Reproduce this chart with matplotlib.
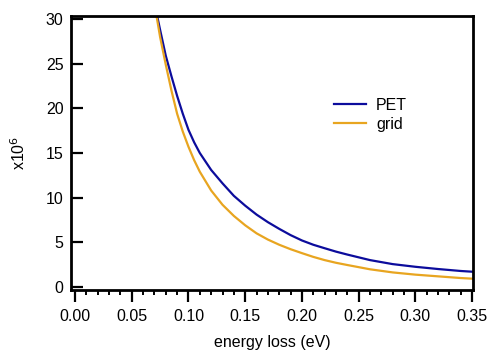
import matplotlib
matplotlib.use("Agg")
import matplotlib.pyplot as plt
from matplotlib.ticker import MultipleLocator

plt.rcParams['font.family'] = ['Liberation Sans', 'DejaVu Sans']

# energy loss (eV)
energy = [0.071, 0.075, 0.08, 0.085, 0.09, 0.095, 0.10, 0.105, 0.11, 0.12, 0.13,
          0.14, 0.15, 0.16, 0.17, 0.18, 0.19, 0.20, 0.21, 0.22, 0.23, 0.24,
          0.26, 0.28, 0.30, 0.32, 0.34, 0.35]
# values in units of 1e6
pet = [31.2, 28.8, 25.9, 23.6, 21.4, 19.4, 17.6, 16.2, 15.0, 13.1, 11.6,
       10.2, 9.1, 8.1, 7.25, 6.5, 5.8, 5.2, 4.72, 4.33, 3.95, 3.62,
       3.0, 2.55, 2.25, 2.0, 1.78, 1.7]
grid = [31.0, 28.0, 24.9, 22.0, 19.4, 17.4, 15.7, 14.2, 12.9, 10.8, 9.2,
        7.95, 6.9, 6.0, 5.3, 4.72, 4.22, 3.78, 3.36, 3.0, 2.7, 2.45,
        1.97, 1.62, 1.37, 1.18, 0.99, 0.92]

fig = plt.figure(figsize=(5.03, 3.59), dpi=100)
ax = fig.add_axes([0.1412, 0.1922, 0.7986, 0.7632])

ax.plot(energy, pet, color='#0c0c9c', lw=1.6, label='PET')
ax.plot(energy, grid, color='#e8a520', lw=1.6, label='grid')

ax.set_xlim(-0.0035, 0.3505)
ax.set_ylim(-0.35, 30.35)

ax.xaxis.set_major_locator(MultipleLocator(0.05))
ax.xaxis.set_minor_locator(MultipleLocator(0.01))
ax.yaxis.set_major_locator(MultipleLocator(5))
ax.xaxis.set_major_formatter(matplotlib.ticker.FormatStrFormatter('%.2f'))

for s in ax.spines.values():
    s.set_linewidth(2)

ax.tick_params(axis='x', which='major', direction='out', length=8.5, width=1.6,
               labelsize=11.5, pad=5)
ax.tick_params(axis='x', which='minor', direction='out', length=3.6, width=1.4)
ax.tick_params(axis='y', which='major', direction='in', length=8.5, width=1.6,
               labelsize=11.5, pad=5.5)

ax.set_xlabel('energy loss (eV)', fontsize=11.5, labelpad=8)
ax.set_ylabel(r'x10$^6$', fontsize=11.5, labelpad=13)

ax.legend(loc='upper left', bbox_to_anchor=(0.62, 0.755), frameon=False,
          fontsize=11.5, handlelength=2.0, handletextpad=0.6, labelspacing=0.25)

fig.savefig('out.png', dpi=100)
